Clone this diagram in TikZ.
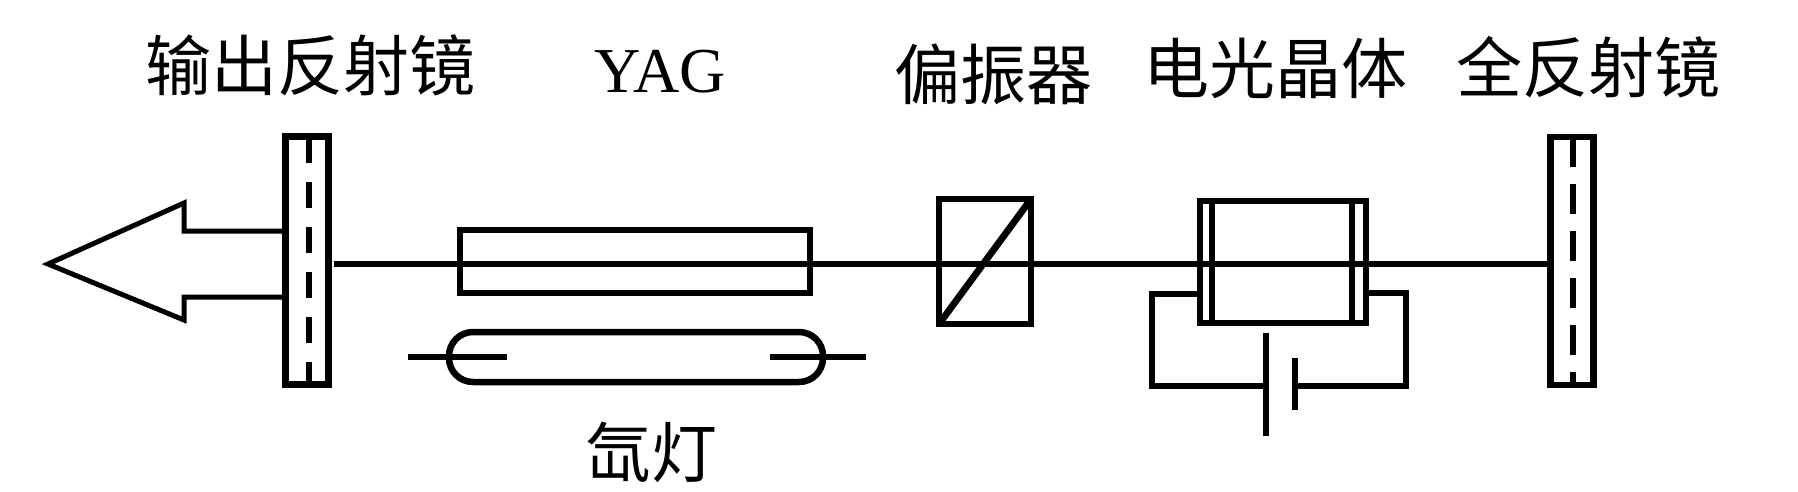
\documentclass[tikz,border=0pt]{standalone}
\usepackage{fontspec}
\setmainfont{Liberation Serif}
\newfontfamily\cjk{Noto Sans CJK SC}
\usetikzlibrary{scopes}

\begin{document}
\begin{tikzpicture}[
    x=0.5pt,y=-0.5pt,
    wire/.style={draw=black,line width=2.85pt,line join=miter},
    beam/.style={draw=black,line width=3.4pt},
    box/.style={rectangle,draw=black,line width=2.85pt,inner sep=0pt,outer sep=0pt},
    mir/.style={box,line width=3.25pt,minimum width=21.5pt,minimum height=124pt},
    lamp/.style={box,line width=3.25pt,rounded corners=12pt,minimum width=187pt,minimum height=25pt},
    lbl/.style={font=\cjk\fontsize{33}{33}\selectfont,inner sep=0pt},
]
    \useasboundingbox (0,0) rectangle (1798,492);
    \node[mir] (outmir) at (307,260.5) {};
    \node[mir] (fullmir) at (1572,261) {};
    \node[box,minimum width=175pt,minimum height=31.5pt] (yag) at (635,261.5) {};
    \node[lamp] (xelamp) at (636,357) {};
    \node[box,line width=3.25pt,minimum width=46pt,minimum height=62.5pt] (pol) at (985,261.5) {};
    \node[box,minimum width=83pt,minimum height=61pt] (cry) at (1283,262) {};
    \coordinate (tip) at (48,264);
    \coordinate (bat1) at (1266,386);
    \coordinate (bat2) at (1295,386);

    \draw[beam,shorten <=2.5pt] (outmir.east |- tip) -- (fullmir.west |- tip);
    \draw[beam,dash pattern=on 13pt off 9.5pt] (309,137) -- (309,384);
    \draw[beam,dash pattern=on 15pt off 8.5pt] (1573,137) -- (1573,385);
    \draw[wire,line width=2.5pt] (outmir.west |- 0,231) -- (184,231) -- (184,203) -- (tip)
        -- (184,320) -- (184,297) -- (outmir.west |- 0,297);
    \draw[beam] (pol.north east) -- (pol.south west);
    \draw[beam] ([xshift=-20.5pt]xelamp.west) -- ++(99,0);
    \draw[beam] ([xshift=21.5pt]xelamp.east) -- ++(-96,0);
    {[wire]
        \draw ([xshift=6pt]cry.north west) -- ([xshift=6pt]cry.south west);
        \draw ([xshift=-7pt]cry.north east) -- ([xshift=-7pt]cry.south east);
        \draw (cry.west |- 0,294) -- (1152,294) |- (bat1);
        \draw (cry.east |- 0,293) -- (1406,293) |- (bat2);
        \draw ([yshift=26.5pt]bat1) -- ([yshift=-25pt]bat1);
        \draw ([yshift=14pt]bat2) -- ([yshift=-12pt]bat2);
    }

    \node[lbl] (outlbl) at (310,65) {输出反射镜};
    \node[font=\fontsize{32}{33}\selectfont,inner sep=0pt] (yaglbl) at (660,72) {YAG};
    \node[lbl] (pollbl) at (993,74) {偏振器};
    \node[lbl] (crylbl) at (1275,68) {电光晶体};
    \node[lbl] (fulllbl) at (1588,67) {全反射镜};
    \node[lbl] (lamplbl) at (651,452) {氙灯};
\end{tikzpicture}
\end{document}
